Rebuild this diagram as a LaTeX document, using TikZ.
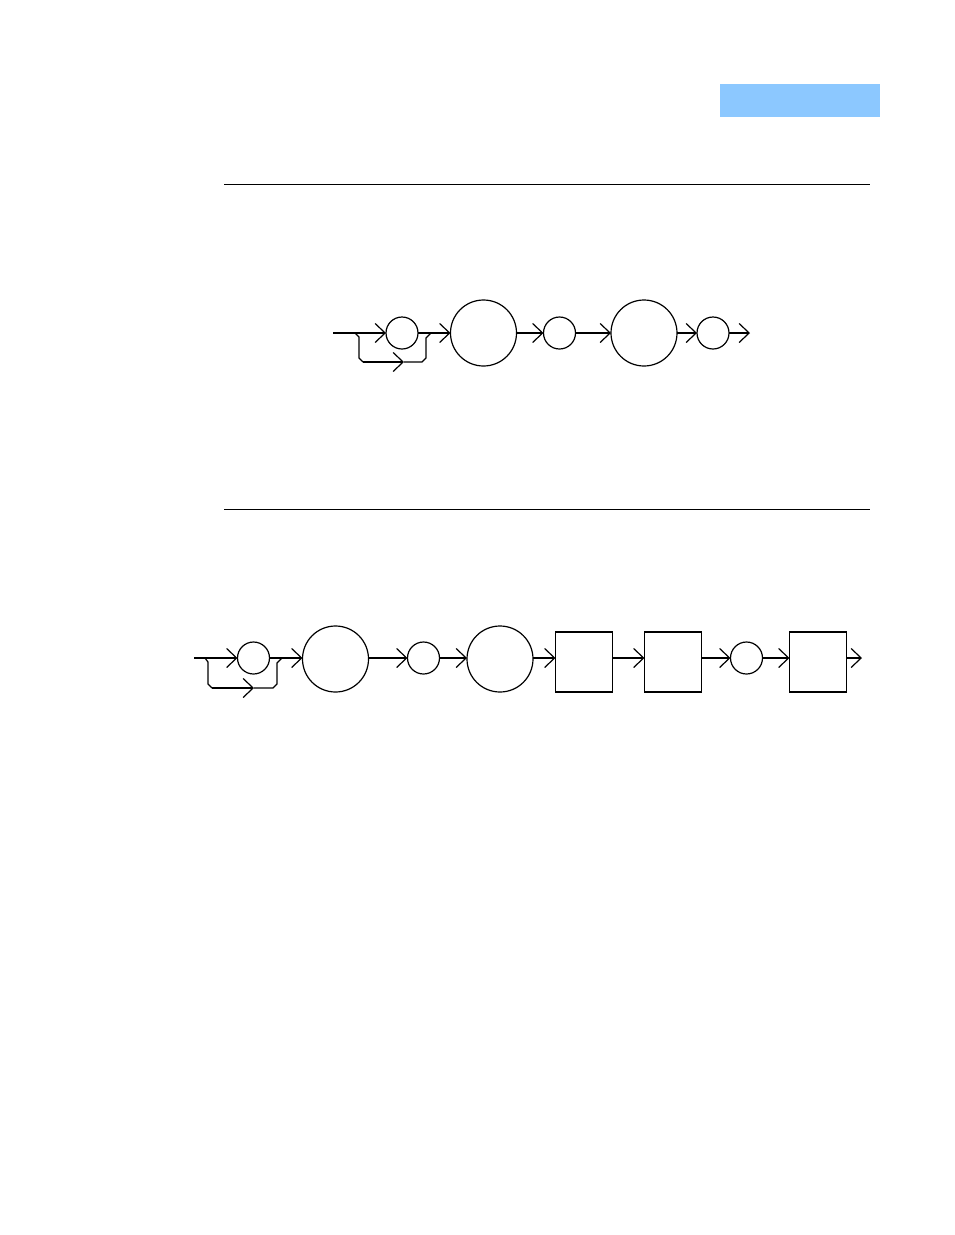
\documentclass[tikz,border=0pt]{standalone}
\usetikzlibrary{arrows.meta}
\definecolor{hdrblue}{RGB}{140,200,255}
\begin{document}
\begin{tikzpicture}[x=1pt,y=-1pt,
  every node/.style={inner sep=0pt,outer sep=0pt},
  wire/.style={line width=1.2pt,line cap=butt,line join=miter},
  arr/.style={wire,-{Straight Barb[length=10pt,width=19pt,line width=1.2pt]}},
  smallc/.style={circle,draw,line width=1.2pt,minimum size=32pt},
  bigc/.style={circle,draw,line width=1.2pt,minimum size=66pt},
  boxn/.style={rectangle,draw,line width=1.6pt,minimum width=57pt,minimum height=60pt},
  rule/.style={line width=1pt}]
\useasboundingbox (0,0) rectangle (954,1235);
% header tab
\fill[hdrblue] (720,84) rectangle (880,117);
% rules
\coordinate (r1a) at (224,184); \coordinate (r1b) at (870,184);
\coordinate (r2a) at (224,509); \coordinate (r2b) at (870,509);
\draw[rule] (r1a) -- (r1b);
\draw[rule] (r2a) -- (r2b);

% ---------- top diagram ----------
\coordinate (s1) at (333,333);
\node[smallc] (a1) at (402,333) {};
\node[bigc]   (a2) at (483.5,333) {};
\node[smallc] (a3) at (559.5,333) {};
\node[bigc]   (a4) at (644,333) {};
\node[smallc] (a5) at (713,333) {};
\coordinate (e1) at (750,333);
\draw[arr] (s1) -- (a1);
\draw[arr] (a1) -- (a2);
\draw[arr] (a2) -- (a3);
\draw[arr] (a3) -- (a4);
\draw[arr] (a4) -- (a5);
\draw[arr] (a5) -- (e1);
% bypass
\coordinate (b1) at (355,333);
\coordinate (b2) at (359,337);
\coordinate (b3) at (359,358);
\coordinate (b4) at (363,362);
\coordinate (b5) at (404,362);
\coordinate (b6) at (422,362);
\coordinate (b7) at (426,358);
\coordinate (b8) at (426,338);
\coordinate (b9) at (431,333);
\draw[wire] (b1) -- (b2) -- (b3) -- (b4);
\draw[arr] (b4) -- (b5);
\draw[wire] (b5) -- (b6) -- (b7) -- (b8) -- (b9);

% ---------- bottom diagram ----------
\coordinate (s2) at (194,658);
\node[smallc] (c1) at (253.5,658) {};
\node[bigc]   (c2) at (335.5,659) {};
\node[smallc] (c3) at (423.5,658) {};
\node[bigc]   (c4) at (500,659) {};
\node[boxn]   (c5) at (584,662) {};
\node[boxn]   (c6) at (673,662) {};
\node[smallc] (c7) at (746.5,658) {};
\node[boxn,line width=1.2pt] (c8) at (818,662) {};
\coordinate (e2) at (862,658);
\draw[arr] (s2) -- (c1);
\draw[arr] (c1) -- (c2.west |- c1.west);
\draw[arr] (c2.east |- c1.east) -- (c3);
\draw[arr] (c3) -- (c4.west |- c3.west);
\draw[arr] (c4.east |- c3.east) -- (c5.west |- c3.east);
\draw[arr] (c5.east |- c3.east) -- (c6.west |- c3.east);
\draw[arr] (c6.east |- c7.west) -- (c7);
\draw[arr] (c7) -- (c8.west |- c7.east);
\draw[arr] (c8.east |- c7.east) -- (e2);
% bypass
\coordinate (d1) at (205,658);
\coordinate (d2) at (208,662);
\coordinate (d3) at (208,684);
\coordinate (d4) at (212,688);
\coordinate (d5) at (254,688);
\coordinate (d6) at (273,688);
\coordinate (d7) at (277,684);
\coordinate (d8) at (277,663);
\coordinate (d9) at (282,658);
\draw[wire] (d1) -- (d2) -- (d3) -- (d4);
\draw[arr] (d4) -- (d5);
\draw[wire] (d5) -- (d6) -- (d7) -- (d8) -- (d9);
\end{tikzpicture}
\end{document}
